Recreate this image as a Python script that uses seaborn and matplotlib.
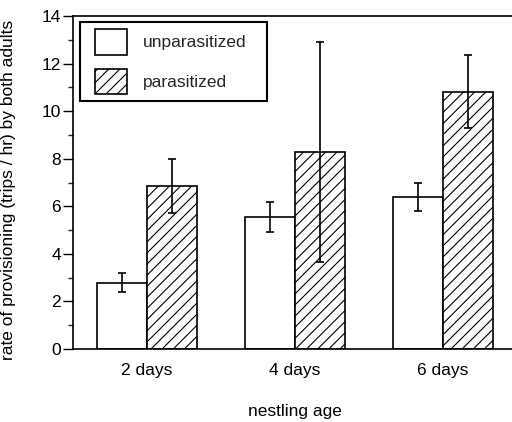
import numpy as np
import pandas as pd
import matplotlib
matplotlib.use('Agg')
import matplotlib.pyplot as plt
import seaborn as sns
from matplotlib.patches import Patch, Rectangle
from matplotlib.legend_handler import HandlerPatch
from matplotlib.ticker import MultipleLocator

# ---- data ----
ages = ['2 days', '4 days', '6 days']
groups = ['unparasitized', 'parasitized']
unpar_mean = [2.78, 5.54, 6.40]
unpar_err = [0.40, 0.62, 0.60]
par_mean = [6.85, 8.28, 10.82]
par_err = [1.12, 4.62, 1.52]

sns.set_theme(style='white')
plt.rcParams['font.family'] = ['Liberation Sans', 'DejaVu Sans']
plt.rcParams['hatch.linewidth'] = 0.8
plt.rcParams['hatch.color'] = 'black'

df = pd.DataFrame({
    'age': ages * 2,
    'group': [groups[0]] * len(ages) + [groups[1]] * len(ages),
    'rate': unpar_mean + par_mean,
})

FS = 12.5
HATCH = '///'
fig = plt.figure(figsize=(5.12, 4.22), dpi=100)
ax = fig.add_axes([73 / 512, 73 / 422, 444 / 512, 333 / 422])

sns.barplot(data=df, x='age', y='rate', hue='group', hue_order=groups, order=ages,
            palette=['white', 'white'], saturation=1, edgecolor='black', linewidth=1.2,
            width=0.67, errorbar=None, legend=False, ax=ax)

errs = [unpar_err, par_err]
for cont, err, hatch in zip(ax.containers, errs, ['', HATCH]):
    xs, ys = [], []
    for bar in cont:
        bar.set_hatch(hatch)
        xs.append(bar.get_x() + bar.get_width() / 2)
        ys.append(bar.get_height())
    ax.errorbar(xs, ys, yerr=err, fmt='none', ecolor='black', elinewidth=1.2,
                capsize=3, capthick=1.2, zorder=5)

ax.set_xlim(-0.5, 2.5)
ax.set_ylim(0, 14)
ax.yaxis.set_major_locator(MultipleLocator(2))
ax.yaxis.set_minor_locator(MultipleLocator(1))
ax.tick_params(axis='y', which='major', direction='out', length=7, width=1,
               labelsize=FS, pad=1.5, left=True, colors='black')
ax.tick_params(axis='y', which='minor', direction='out', length=3.5, width=1, left=True)
ax.tick_params(axis='x', length=0, pad=10, labelsize=FS, colors='black')
for s in ax.spines.values():
    s.set_visible(True)
    s.set_color('black')
    s.set_linewidth(1.2)

ax.set_xlabel('nestling age', fontsize=FS, color='black')
ax.xaxis.set_label_coords(0.5, -0.165)
ax.set_ylabel('rate of provisioning (trips / hr) by both adults', fontsize=FS, color='black')
ax.yaxis.set_label_coords(-0.128, 0.477)

handles = [
    Patch(facecolor='white', edgecolor='black', linewidth=1.2, label=groups[0]),
    Patch(facecolor='white', edgecolor='black', hatch=HATCH, linewidth=1.2, label=groups[1]),
]


def shifted(legend, orig_handle, xdescent, ydescent, width, height, fontsize):
    dx = 5.8
    return Rectangle((-xdescent + dx, -ydescent), width - dx, height)


leg = ax.legend(handles=handles, loc='upper left', bbox_to_anchor=(0.0158, 0.3, 0.421, 0.682),
                mode='expand', borderaxespad=0, fontsize=FS, handlelength=2.3,
                handleheight=1.9, handletextpad=0.92, borderpad=0.4, labelspacing=0.8,
                frameon=True, fancybox=False, edgecolor='black', framealpha=1,
                handler_map={Patch: HandlerPatch(patch_func=shifted)})
leg.get_frame().set_linewidth(1.5)

fig.savefig('out.png', dpi=100)
